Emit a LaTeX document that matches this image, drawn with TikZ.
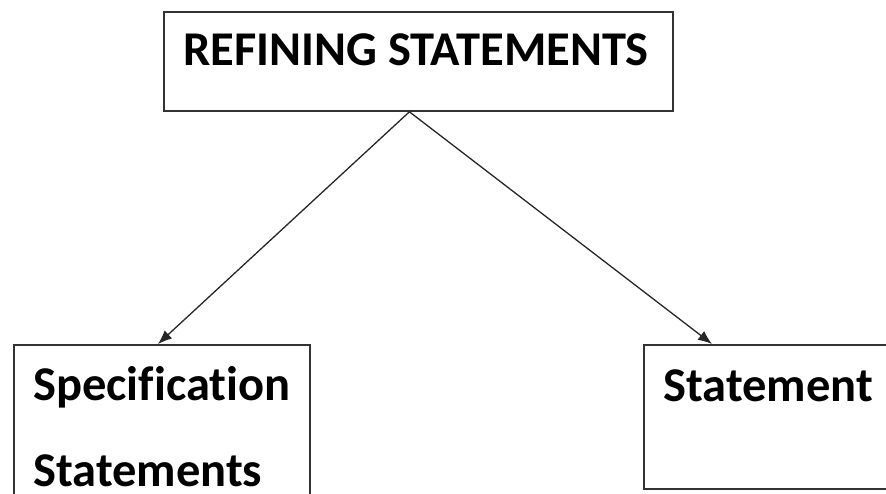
\documentclass[tikz,border=0pt]{standalone}
\usepackage{fontspec}
\setmainfont{Carlito}[Ligatures=NoCommon]
\usetikzlibrary{arrows.meta}
\tikzstyle{box}=[draw=black!80, line width=1.8pt, rectangle, anchor=north west, inner sep=0pt]
\tikzstyle{label}=[anchor=base west, inner sep=0pt, font=\fontsize{48.5}{58}\selectfont\bfseries]

\begin{document}
\begin{tikzpicture}[>={Latex[length=14pt, width=11pt]}, x=1pt, y=-1pt]
    \useasboundingbox (0, 0) rectangle (886, 493);
    \clip (0, 0) rectangle (886, 493);
    \node[box, minimum width=509pt, minimum height=99pt] (refine) at (163, 11) {};
    \node[box, minimum width=296pt, minimum height=180pt] (spec) at (13, 344) {};
    \node[box, minimum width=270pt, minimum height=144pt] (stmt) at (643, 344) {};

    \node[label] (refinetext) at (183, 65) {REFINING STATEMENTS};
    \node[label] (spectext) at (33, 400) {Specification};
    \node[label] (spectext2) at (33, 486) {Statements};
    \node[label] (stmttext) at (663, 401) {Statement};

    \draw[->, line width=1.3pt, black!85] ([xshift=-9pt]refine.south) -- ([xshift=145pt]spec.north west);
    \draw[->, line width=1.3pt, black!85] ([xshift=-9pt]refine.south) -- ([xshift=69pt]stmt.north west);
\end{tikzpicture}
\end{document}
